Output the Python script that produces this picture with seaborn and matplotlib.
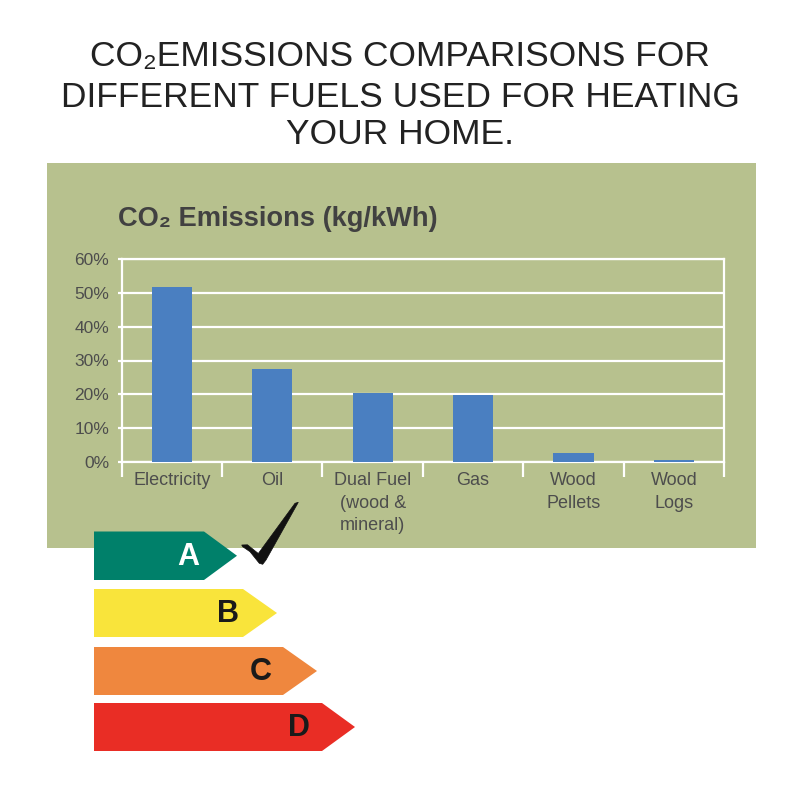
import matplotlib
matplotlib.use("Agg")
import matplotlib.pyplot as plt
from matplotlib.patches import Polygon, Rectangle
import seaborn as sns
import pandas as pd

# ---- data ----
fuels = ["Electricity", "Oil", "Dual Fuel\n(wood &\nmineral)", "Gas", "Wood\nPellets", "Wood\nLogs"]
emissions_pct = [51.7, 27.4, 20.5, 19.7, 2.7, 0.6]
y_ticks = [0, 10, 20, 30, 40, 50, 60]
y_tick_labels = ["0%", "10%", "20%", "30%", "40%", "50%", "60%"]
main_title_lines = ["CO\u2082EMISSIONS COMPARISONS FOR", "DIFFERENT FUELS USED FOR HEATING", "YOUR HOME."]
chart_title = "CO\u2082 Emissions (kg/kWh)"
rating_letters = ["A", "B", "C", "D"]

FONT = ["Liberation Sans", "DejaVu Sans"]
plt.rcParams["font.family"] = FONT

W = H = 800.0
def fx(x):
    return x / W
def fy(y):
    return 1 - y / H

fig = plt.figure(figsize=(8, 8), dpi=100)
fig.patch.set_facecolor("white")

# green panel
fig.patches.append(Rectangle((fx(47), fy(548)), (756 - 47) / W, (548 - 163) / H,
                             transform=fig.transFigure, facecolor="#b7c18e",
                             edgecolor="none", zorder=-5))

# main title
for txt, yb in zip(main_title_lines, [66, 107, 144]):
    fig.text(0.5, fy(yb), txt, ha="center", va="baseline", fontsize=25.5,
             color="#222222", family=FONT)

# chart title
fig.text(fx(118), fy(226), chart_title, ha="left", va="baseline", fontsize=19.6,
         fontweight="bold", color="#414141", family=FONT)

# axes
left, right, bottom, top = 121.7, 724, 462, 259
ax = fig.add_axes([fx(left), fy(bottom), (right - left) / W, (bottom - top) / H])
ax.set_facecolor("none")
df = pd.DataFrame({"fuel": fuels, "pct": emissions_pct})
sns.barplot(data=df, x="fuel", y="pct", color="#4a7fc1", width=0.4,
            saturation=1, ax=ax, zorder=3)
ax.set_xlim(-0.5, len(fuels) - 0.5)
ax.set_ylim(0, 60)
ax.set_xlabel("")
ax.set_ylabel("")

ax.set_yticks(y_ticks)
ax.set_yticklabels(y_tick_labels)
ax.yaxis.grid(True, color="white", linewidth=1.6, zorder=1)
ax.set_axisbelow(True)

ax.set_xticks([i - 0.5 for i in range(len(fuels) + 1)])
ax.set_xticklabels([])
ax.set_xticks(range(len(fuels)), minor=True)
ax.set_xticklabels(fuels, minor=True, linespacing=1.45)
ax.tick_params(axis="x", which="major", length=11, width=1.6, color="white", direction="out")
ax.tick_params(axis="x", which="minor", length=0, pad=7, labelsize=13, labelcolor="#4d4d4d")
ax.tick_params(axis="y", length=3, width=1.6, color="white", pad=6, labelsize=12.5,
               labelcolor="#4d4d4d")
for s in ["left", "right", "top", "bottom"]:
    ax.spines[s].set_color("white")
    ax.spines[s].set_linewidth(1.6)

# energy rating arrows
arrows = [
    # (top, bottom, rect_end, tip, color, letter_x, letter_color)
    (531.5, 580, 204, 237, "#00806a", 188, "white"),
    (589, 637, 243, 277, "#f9e43b", 228, "#1a1a1a"),
    (647, 695, 283, 317, "#ef873e", 261, "#1a1a1a"),
    (703, 751, 322, 355, "#e92d25", 299, "#1a1a1a"),
]
x0 = 94
for (t, b, re, tip, col, lx, lc), letter in zip(arrows, rating_letters):
    mid = (t + b) / 2
    pts = [(x0, t), (re, t), (tip, mid), (re, b), (x0, b)]
    fig.patches.append(Polygon([(fx(x), fy(y)) for x, y in pts], closed=True,
                               transform=fig.transFigure, facecolor=col,
                               edgecolor="none", zorder=5))
    fig.text(fx(lx), fy(mid + 1), letter, ha="center", va="center", fontsize=22,
             fontweight="bold", color=lc, family=FONT, zorder=6)

# check mark
check = [(241.7, 545), (247.5, 544.8), (258.3, 553.5), (295, 503.3), (298.3, 502.3),
         (266, 560), (262.7, 564.3), (259.3, 563.3), (250, 551.7), (242.7, 546.7)]
fig.patches.append(Polygon([(fx(x), fy(y)) for x, y in check], closed=True,
                           transform=fig.transFigure, facecolor="#111111",
                           edgecolor="#111111", linewidth=0.5, zorder=6))

fig.savefig("out.png", dpi=100, facecolor="white")
